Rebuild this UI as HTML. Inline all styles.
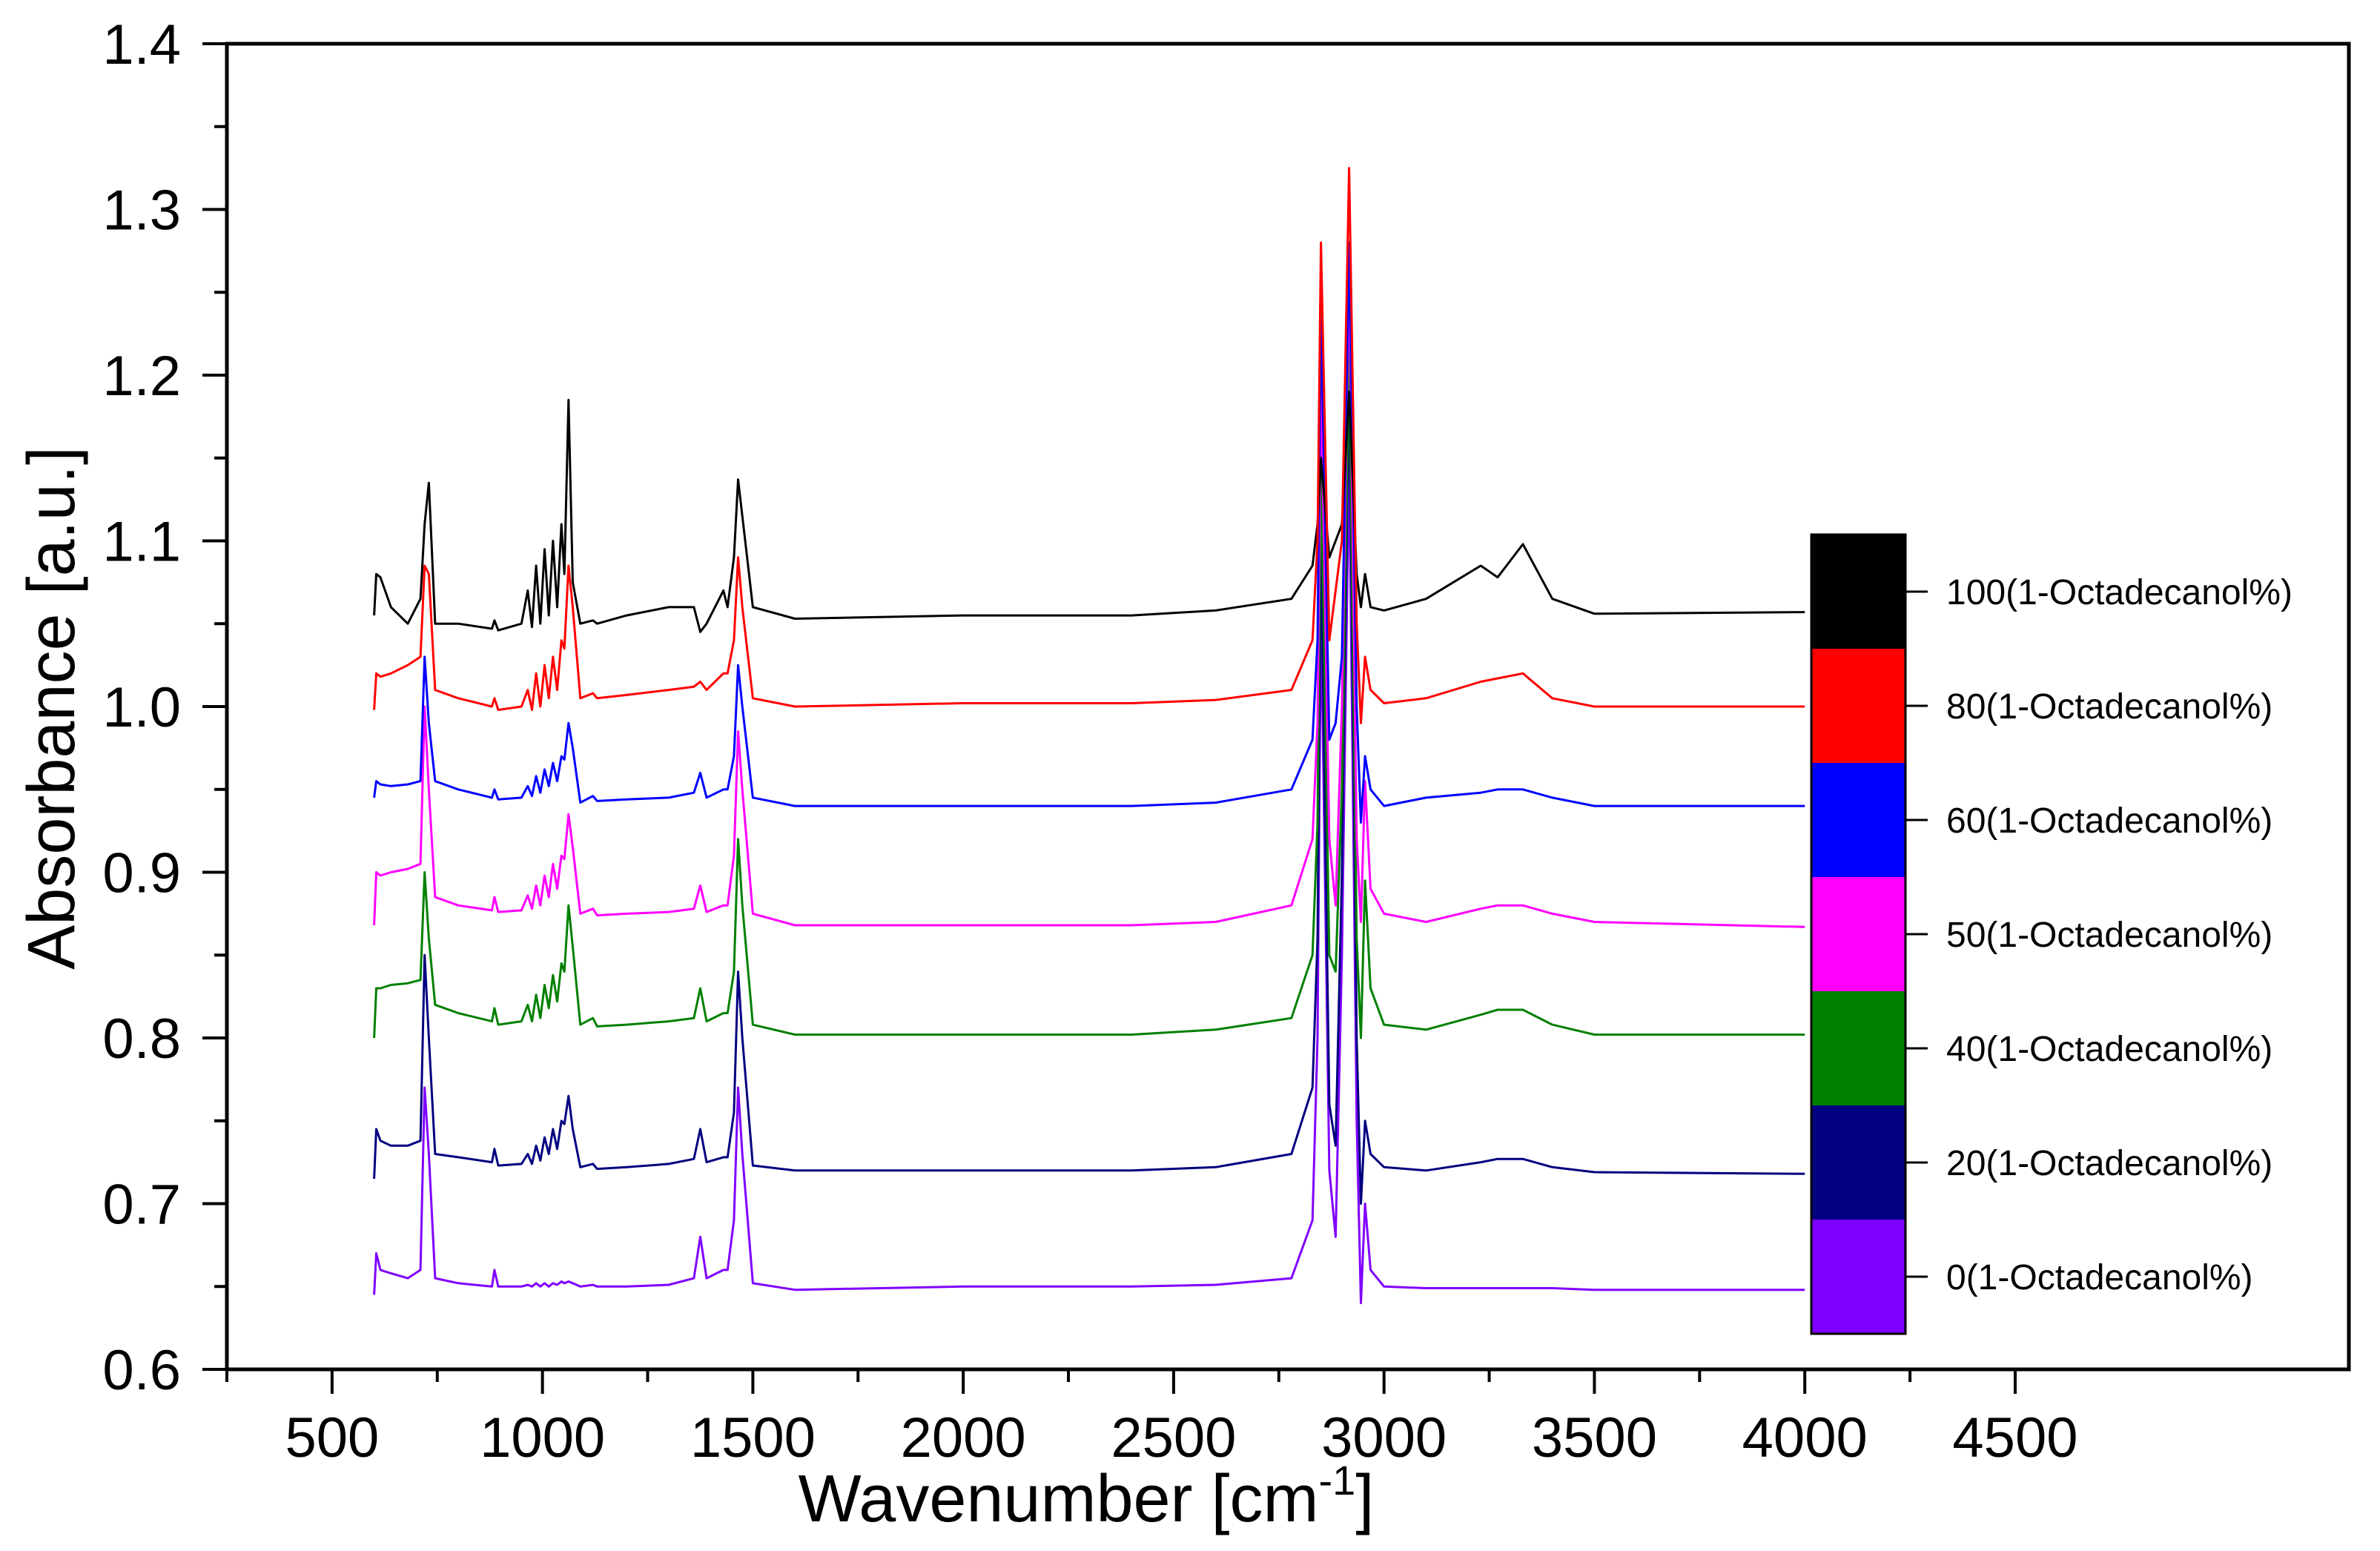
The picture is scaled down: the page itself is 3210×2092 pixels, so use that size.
<!DOCTYPE html>
<html><head><meta charset="utf-8"><style>
html,body{margin:0;padding:0;background:#fff;}
svg{display:block;font-family:"Liberation Sans",Arial,sans-serif;}
</style></head><body>
<svg id="chart" width="3210" height="2092" viewBox="0 0 3210 2092" xmlns="http://www.w3.org/2000/svg">
<rect x="0" y="0" width="3210" height="2092" fill="#fff"/>
<g id="series"></g>
<g id="axes"></g>
<g id="legend"></g>
<text x="0" y="0" font-size="90" text-anchor="middle" transform="translate(100,955) rotate(-90)">Absorbance [a.u.]</text>
<text x="1465" y="2052" font-size="90" text-anchor="middle">Wavenumber [cm<tspan font-size="56" dy="-36">-1</tspan><tspan dy="36">]</tspan></text>
</svg>
<script>
const wavenumbers=[600,605,615,640,680,710,720,730,745,800,880,886,895,950,965,975,985,995,1005,1015,1025,1035,1045,1052,1062,1072,1090,1120,1130,1200,1300,1360,1375,1390,1430,1440,1455,1465,1475,1500,1600,2000,2400,2600,2780,2830,2842,2850,2870,2885,2900,2917,2935,2945,2955,2968,3000,3100,3230,3270,3330,3400,3500,4000];
const s100=[1.055,1.08,1.078,1.06,1.05,1.065,1.11,1.135,1.05,1.05,1.047,1.052,1.046,1.05,1.07,1.048,1.085,1.05,1.095,1.055,1.1,1.06,1.11,1.08,1.185,1.075,1.05,1.052,1.05,1.055,1.06,1.06,1.045,1.05,1.07,1.06,1.09,1.137,1.115,1.06,1.053,1.055,1.055,1.058,1.065,1.085,1.11,1.15,1.09,1.1,1.11,1.19,1.08,1.06,1.08,1.06,1.058,1.065,1.085,1.078,1.098,1.065,1.056,1.057];
const s80=[0.998,1.02,1.018,1.02,1.025,1.03,1.085,1.08,1.01,1.005,1.0,1.005,0.998,1.0,1.01,0.998,1.02,1.0,1.025,1.005,1.03,1.01,1.04,1.035,1.085,1.06,1.005,1.008,1.005,1.007,1.01,1.012,1.015,1.01,1.02,1.02,1.04,1.09,1.06,1.005,1.0,1.002,1.002,1.004,1.01,1.04,1.1,1.28,1.04,1.07,1.1,1.325,1.05,0.99,1.03,1.01,1.002,1.005,1.015,1.017,1.02,1.005,1.0,1.0];
const s60=[0.945,0.955,0.953,0.952,0.953,0.955,1.03,0.99,0.955,0.95,0.945,0.95,0.944,0.945,0.952,0.946,0.958,0.948,0.962,0.952,0.966,0.955,0.97,0.968,0.99,0.975,0.942,0.946,0.943,0.944,0.945,0.948,0.96,0.945,0.95,0.95,0.97,1.025,1.0,0.945,0.94,0.94,0.94,0.942,0.95,0.98,1.04,1.24,0.98,0.99,1.03,1.28,1.0,0.93,0.97,0.95,0.94,0.945,0.948,0.95,0.95,0.945,0.94,0.94];
const s50=[0.868,0.9,0.898,0.9,0.902,0.905,1.0,0.95,0.885,0.88,0.877,0.885,0.876,0.877,0.886,0.878,0.892,0.88,0.898,0.885,0.905,0.89,0.91,0.908,0.935,0.915,0.875,0.878,0.874,0.875,0.876,0.878,0.892,0.876,0.88,0.88,0.91,0.985,0.95,0.875,0.868,0.868,0.868,0.87,0.88,0.92,0.99,1.2,0.92,0.88,1.0,1.265,0.92,0.87,0.955,0.89,0.875,0.87,0.878,0.88,0.88,0.875,0.87,0.867];
const s40=[0.8,0.83,0.83,0.832,0.833,0.835,0.9,0.86,0.82,0.815,0.81,0.818,0.808,0.81,0.82,0.81,0.826,0.812,0.832,0.818,0.838,0.822,0.845,0.84,0.88,0.855,0.808,0.812,0.807,0.808,0.81,0.812,0.83,0.81,0.815,0.815,0.84,0.92,0.88,0.808,0.802,0.802,0.802,0.805,0.812,0.85,0.93,1.15,0.85,0.84,0.95,1.22,0.86,0.8,0.895,0.83,0.808,0.805,0.814,0.817,0.817,0.808,0.802,0.802];
const s20=[0.715,0.745,0.738,0.735,0.735,0.738,0.85,0.8,0.73,0.728,0.725,0.733,0.723,0.724,0.73,0.724,0.735,0.726,0.74,0.73,0.745,0.733,0.75,0.748,0.765,0.745,0.722,0.724,0.721,0.722,0.724,0.727,0.745,0.725,0.728,0.728,0.755,0.84,0.8,0.723,0.72,0.72,0.72,0.722,0.73,0.77,0.86,1.1,0.76,0.735,0.9,1.2,0.8,0.7,0.75,0.73,0.722,0.72,0.725,0.727,0.727,0.722,0.719,0.718];
const s0=[0.645,0.67,0.66,0.658,0.655,0.66,0.77,0.73,0.655,0.652,0.65,0.66,0.65,0.65,0.651,0.65,0.652,0.65,0.652,0.65,0.652,0.651,0.653,0.652,0.653,0.652,0.65,0.651,0.65,0.65,0.651,0.655,0.68,0.655,0.66,0.66,0.69,0.77,0.73,0.652,0.648,0.65,0.65,0.651,0.655,0.69,0.8,1.06,0.72,0.68,0.85,1.15,0.75,0.64,0.7,0.66,0.65,0.649,0.649,0.649,0.649,0.649,0.648,0.648];
const seriesLabels=["100(1-Octadecanol%)","80(1-Octadecanol%)","60(1-Octadecanol%)","50(1-Octadecanol%)","40(1-Octadecanol%)","20(1-Octadecanol%)","0(1-Octadecanol%)"];
const seriesColors=["#000000","#ff0000","#0000ff","#ff00ff","#008000","#000080","#8000ff"];
const xTickLabels=["500","1000","1500","2000","2500","3000","3500","4000","4500"];
const yTickLabels=["0.6","0.7","0.8","0.9","1.0","1.1","1.2","1.3","1.4"];

const NS="http://www.w3.org/2000/svg";
const L=306,R=3168,T=59,B=1847;
const X0=250,X1=5293,Y0=0.6,Y1=1.4;
function xs(v){return L+(v-X0)/(X1-X0)*(R-L);}
function ys(v){return B-(v-Y0)/(Y1-Y0)*(B-T);}
function mk(tag,attrs,parent){const e=document.createElementNS(NS,tag);for(const k in attrs)e.setAttribute(k,attrs[k]);parent.appendChild(e);return e;}

const allSeries=[s100,s80,s60,s50,s40,s20,s0];
const sg=document.getElementById('series');
const order=[6,5,4,3,2,0,1];
order.forEach(i=>{
  const pts=wavenumbers.map((w,j)=>xs(w).toFixed(1)+','+ys(allSeries[i][j]).toFixed(1)).join(' ');
  const p=mk('polyline',{points:pts,fill:'none',stroke:seriesColors[i],'stroke-width':3,'stroke-linejoin':'round'},sg);
  
  
});

const ax=document.getElementById('axes');
const frame=mk('rect',{x:L,y:T,width:R-L,height:B-T,fill:'none',stroke:'#000','stroke-width':5},ax);


for(let v=250;v<=4500;v+=250){
  const major=(v%500===0);
  const t=mk('line',{x1:xs(v),x2:xs(v),y1:B,y2:B+(major?33:17),stroke:'#000','stroke-width':4},ax);
  
  
}
xTickLabels.forEach(s=>{
  const t=mk('text',{x:xs(+s),y:1965,'font-size':76,'text-anchor':'middle',fill:'#000'},ax);
  t.textContent=s;
  
  
});
for(let k=0;k<=16;k++){
  const v=0.6+k*0.05;const major=(k%2===0);
  const t=mk('line',{x1:L,x2:L-(major?33:17),y1:ys(v),y2:ys(v),stroke:'#000','stroke-width':4},ax);
  
  
}
yTickLabels.forEach(s=>{
  const t=mk('text',{x:244,y:ys(+s)+27,'font-size':76,'text-anchor':'end',fill:'#000'},ax);
  t.textContent=s;
  
  
});

const lg=document.getElementById('legend');
const LX=2443,LW=127,LT=721,LH=154;
seriesLabels.forEach((s,i)=>{
  const y=LT+i*LH;
  const r=mk('rect',{x:LX,y:y,width:LW,height:LH+1,fill:seriesColors[i]},lg);
  
  
  const tk=mk('line',{x1:LX+LW,x2:LX+LW+30,y1:y+LH/2,y2:y+LH/2,stroke:'#000','stroke-width':3},lg);
  
  
  const t=mk('text',{x:2625,y:y+LH/2+17,'font-size':48,fill:'#000'},lg);
  t.textContent=s;
  
  
});
const lb=mk('rect',{x:LX,y:LT,width:LW,height:LH*7,fill:'none',stroke:'#000','stroke-width':3},lg);


</script>
</body></html>
